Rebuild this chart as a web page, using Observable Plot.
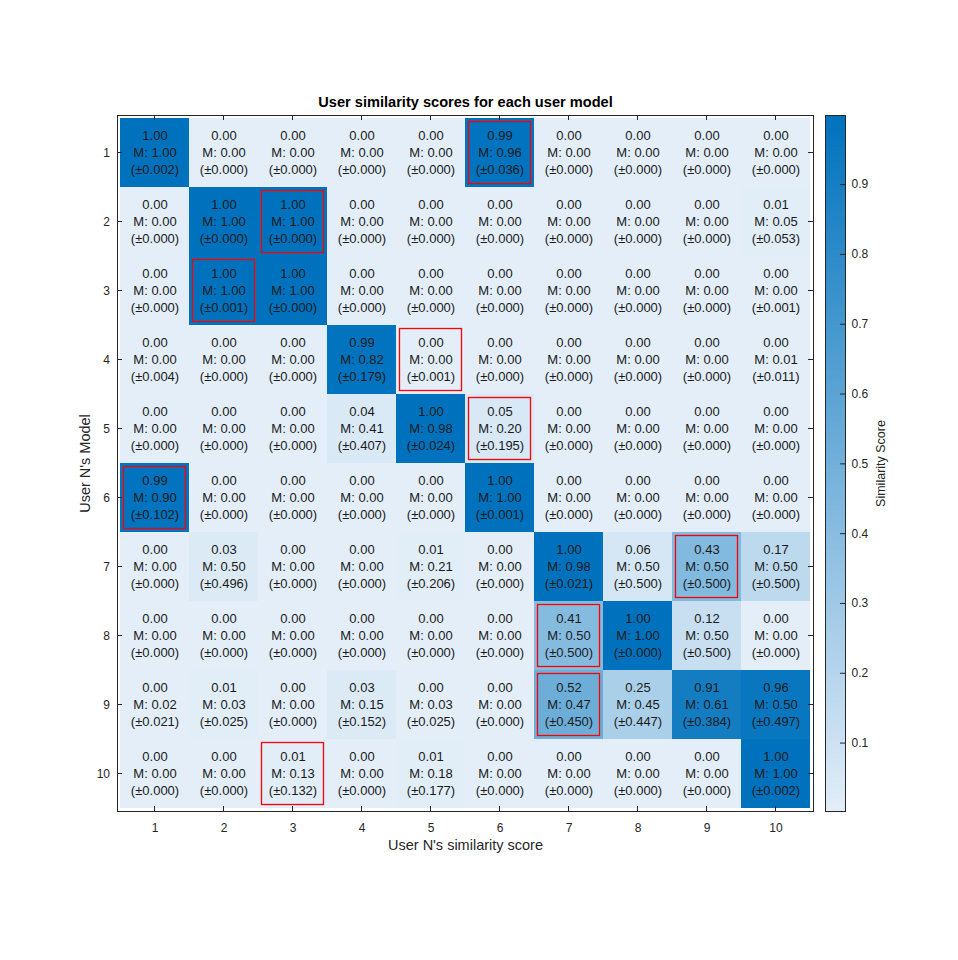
<!DOCTYPE html>
<html><head><meta charset="utf-8">
<script src="https://cdn.jsdelivr.net/npm/d3@7"></script>
<script src="https://cdn.jsdelivr.net/npm/@observablehq/plot@0.6"></script>
<style>
body{margin:0;background:#fff;overflow:hidden}
#wrap{position:relative;width:958px;height:960px}
#wrap svg{position:absolute;top:0}
</style>
</head><body><div id="wrap"></div>
<script>
// ---- data ----
const users = [1, 2, 3, 4, 5, 6, 7, 8, 9, 10];
// similarity score (top line); rows = user N's model, cols = user N's similarity score
const scores = [
  [1.00, 0.00, 0.00, 0.00, 0.00, 0.99, 0.00, 0.00, 0.00, 0.00],
  [0.00, 1.00, 1.00, 0.00, 0.00, 0.00, 0.00, 0.00, 0.00, 0.01],
  [0.00, 1.00, 1.00, 0.00, 0.00, 0.00, 0.00, 0.00, 0.00, 0.00],
  [0.00, 0.00, 0.00, 0.99, 0.00, 0.00, 0.00, 0.00, 0.00, 0.00],
  [0.00, 0.00, 0.00, 0.04, 1.00, 0.05, 0.00, 0.00, 0.00, 0.00],
  [0.99, 0.00, 0.00, 0.00, 0.00, 1.00, 0.00, 0.00, 0.00, 0.00],
  [0.00, 0.03, 0.00, 0.00, 0.01, 0.00, 1.00, 0.06, 0.43, 0.17],
  [0.00, 0.00, 0.00, 0.00, 0.00, 0.00, 0.41, 1.00, 0.12, 0.00],
  [0.00, 0.01, 0.00, 0.03, 0.00, 0.00, 0.52, 0.25, 0.91, 0.96],
  [0.00, 0.00, 0.01, 0.00, 0.01, 0.00, 0.00, 0.00, 0.00, 1.00]
];
const means = [
  [1.00, 0.00, 0.00, 0.00, 0.00, 0.96, 0.00, 0.00, 0.00, 0.00],
  [0.00, 1.00, 1.00, 0.00, 0.00, 0.00, 0.00, 0.00, 0.00, 0.05],
  [0.00, 1.00, 1.00, 0.00, 0.00, 0.00, 0.00, 0.00, 0.00, 0.00],
  [0.00, 0.00, 0.00, 0.82, 0.00, 0.00, 0.00, 0.00, 0.00, 0.01],
  [0.00, 0.00, 0.00, 0.41, 0.98, 0.20, 0.00, 0.00, 0.00, 0.00],
  [0.90, 0.00, 0.00, 0.00, 0.00, 1.00, 0.00, 0.00, 0.00, 0.00],
  [0.00, 0.50, 0.00, 0.00, 0.21, 0.00, 0.98, 0.50, 0.50, 0.50],
  [0.00, 0.00, 0.00, 0.00, 0.00, 0.00, 0.50, 1.00, 0.50, 0.00],
  [0.02, 0.03, 0.00, 0.15, 0.03, 0.00, 0.47, 0.45, 0.61, 0.50],
  [0.00, 0.00, 0.13, 0.00, 0.18, 0.00, 0.00, 0.00, 0.00, 1.00]
];
const sds = [
  [0.002, 0.000, 0.000, 0.000, 0.000, 0.036, 0.000, 0.000, 0.000, 0.000],
  [0.000, 0.000, 0.000, 0.000, 0.000, 0.000, 0.000, 0.000, 0.000, 0.053],
  [0.000, 0.001, 0.000, 0.000, 0.000, 0.000, 0.000, 0.000, 0.000, 0.001],
  [0.004, 0.000, 0.000, 0.179, 0.001, 0.000, 0.000, 0.000, 0.000, 0.011],
  [0.000, 0.000, 0.000, 0.407, 0.024, 0.195, 0.000, 0.000, 0.000, 0.000],
  [0.102, 0.000, 0.000, 0.000, 0.000, 0.001, 0.000, 0.000, 0.000, 0.000],
  [0.000, 0.496, 0.000, 0.000, 0.206, 0.000, 0.021, 0.500, 0.500, 0.500],
  [0.000, 0.000, 0.000, 0.000, 0.000, 0.000, 0.500, 0.000, 0.500, 0.000],
  [0.021, 0.025, 0.000, 0.152, 0.025, 0.000, 0.450, 0.447, 0.384, 0.497],
  [0.000, 0.000, 0.132, 0.000, 0.177, 0.000, 0.000, 0.000, 0.000, 0.002]
];
// column of the highlighted (red-boxed) cell in each row
const boxedCol = [6, 3, 2, 5, 6, 1, 9, 7, 7, 3];
const cbTicks = [0.1, 0.2, 0.3, 0.4, 0.5, 0.6, 0.7, 0.8, 0.9];

// ---- tables ----
const cells = [];
users.forEach((r, i) => users.forEach((c, j) => {
  cells.push({row: r, col: c, score: scores[i][j], mean: means[i][j], sd: sds[i][j]});
}));
const boxes = boxedCol.map((c, i) => ({row: users[i], col: c}));

const colorScale = {type: "linear", domain: [0, 1], range: ["#e3eef8", "#0072bd"], interpolate: "rgb"};
const FONT = "Arial, 'Liberation Sans', Helvetica, sans-serif";
const INK = "#262626";
const W = 958, H = 960;

// inward MATLAB-style ticks on all four sides
function inwardTicks(index, scales, values, dims) {
  const {x, y} = scales;
  const L = dims.marginLeft, T = dims.marginTop;
  const Rr = dims.width - dims.marginRight, B = dims.height - dims.marginBottom;
  const bx = x.bandwidth ? x.bandwidth() / 2 : 0;
  const by = y.bandwidth ? y.bandwidth() / 2 : 0;
  const g = d3.create("svg:g").attr("stroke", INK).attr("stroke-width", 1);
  for (const u of users) {
    const px = x(u) + bx, py = y(u) + by;
    g.append("line").attr("x1", px).attr("x2", px).attr("y1", B).attr("y2", B - 5);
    g.append("line").attr("x1", px).attr("x2", px).attr("y1", T).attr("y2", T + 5);
    g.append("line").attr("y1", py).attr("y2", py).attr("x1", L).attr("x2", L + 5);
    g.append("line").attr("y1", py).attr("y2", py).attr("x1", Rr).attr("x2", Rr - 5);
  }
  return g.node();
}

const main = Plot.plot({
  width: W, height: H,
  marginLeft: 117, marginRight: 145, marginTop: 115, marginBottom: 149,
  style: {fontFamily: FONT, fontSize: "12px", color: INK, background: "white"},
  x: {type: "band", domain: users, padding: 0, axis: null},
  y: {type: "band", domain: users, padding: 0, axis: null},
  color: colorScale,
  marks: [
    Plot.cell(cells, {x: "col", y: "row", fill: "score"}),
    Plot.text(cells, {x: "col", y: "row", text: d => d.score.toFixed(2), dy: -17, fontSize: 13, fill: "#1a1a1a"}),
    Plot.text(cells, {x: "col", y: "row", text: d => "M: " + d.mean.toFixed(2), fontSize: 13, fill: "#1a1a1a"}),
    Plot.text(cells, {x: "col", y: "row", text: d => "(\u00b1" + d.sd.toFixed(3) + ")", dy: 17, fontSize: 13, fill: "#1a1a1a"}),
    Plot.cell(boxes, {x: "col", y: "row", fill: "none", stroke: "#ff0000", strokeWidth: 1.3, inset: 3.5}),
    Plot.frame({stroke: INK}),
    inwardTicks,
    Plot.axisX({anchor: "bottom", tickSize: 0, tickPadding: 11.5, label: null, fontSize: 12}),
    Plot.axisY({anchor: "left", tickSize: 0, tickPadding: 7.5, label: null, fontSize: 12}),
    Plot.text(["User similarity scores for each user model"], {frameAnchor: "top", lineAnchor: "middle", textAnchor: "middle", dy: -13, fontWeight: "bold", fontSize: 14.6, fill: "#000"}),
    Plot.text(["User N's similarity score"], {frameAnchor: "bottom", lineAnchor: "middle", textAnchor: "middle", dy: 34, fontSize: 14.5, fill: INK}),
    Plot.text(["User N's Model"], {frameAnchor: "left", lineAnchor: "middle", textAnchor: "middle", dx: -32, rotate: -90, fontSize: 14.5, fill: INK})
  ]
});

// ---- colorbar ----
const cbStep = 0.004;
const cbSlices = d3.range(0, 1, cbStep);
const colorbar = Plot.plot({
  width: 153, height: H,
  marginLeft: 20, marginRight: 113, marginTop: 115, marginBottom: 149,
  style: {fontFamily: FONT, fontSize: "12px", color: INK, background: "transparent", overflow: "visible"},
  x: {type: "linear", domain: [0, 1], axis: null},
  y: {type: "linear", domain: [0.002, 0.999], axis: null},
  color: colorScale,
  marks: [
    Plot.rect(cbSlices, {x1: 0, x2: 1, y1: d => Math.max(0.002, d), y2: d => Math.min(0.999, d + cbStep * 1.6), fill: d => d + cbStep / 2}),
    Plot.ruleY(cbTicks, {y: d => d, x1: 0.75, x2: 1, stroke: INK}),
    Plot.text(cbTicks, {y: d => d, x: 1, dx: 6, text: d => d.toFixed(1), textAnchor: "start", fontSize: 12, fill: INK}),
    Plot.frame({stroke: INK}),
    Plot.text(["Similarity Score"], {frameAnchor: "right", lineAnchor: "middle", textAnchor: "middle", dx: 35, rotate: -90, fontSize: 12.5, fill: INK})
  ]
});
colorbar.style.left = "805px";

const wrap = document.getElementById("wrap");
wrap.appendChild(main);
wrap.appendChild(colorbar);
</script>
</body></html>
